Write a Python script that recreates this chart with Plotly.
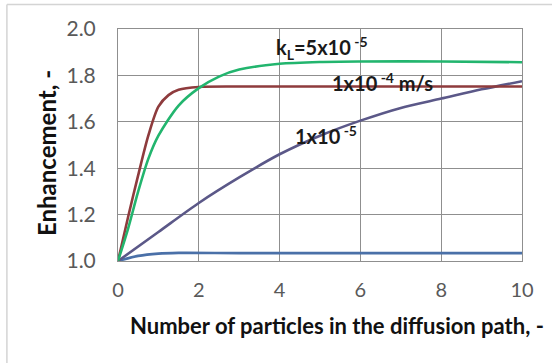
import plotly.graph_objects as go

# Data
x_red = [0, 0.25, 0.5, 0.75, 1.0, 1.25, 1.5, 2, 3, 4, 6, 8, 10]
y_red = [1.0, 1.19, 1.37, 1.54, 1.665, 1.715, 1.738, 1.75, 1.752, 1.752, 1.752, 1.752, 1.752]

x_green = [0, 0.25, 0.5, 0.75, 1.0, 1.5, 2, 2.5, 3, 4, 5, 6, 8, 10]
y_green = [1.0, 1.14, 1.30, 1.44, 1.54, 1.67, 1.745, 1.795, 1.825, 1.85, 1.858, 1.86, 1.86, 1.857]

x_purple = [0, 1, 2, 3, 4, 5, 6, 7, 8, 9, 10]
y_purple = [1.0, 1.125, 1.25, 1.36, 1.46, 1.54, 1.605, 1.66, 1.70, 1.74, 1.775]

x_blue = [0, 0.5, 1, 1.5, 3, 6, 10]
y_blue = [1.0, 1.022, 1.032, 1.035, 1.034, 1.034, 1.034]

x_ticks = [0, 2, 4, 6, 8, 10]
y_ticks = [1.0, 1.2, 1.4, 1.6, 1.8, 2.0]

FONT = "Lato"

fig = go.Figure()
for xs, ys, col in [(x_blue, y_blue, "#4a70a8"), (x_purple, y_purple, "#5b5888"),
                    (x_red, y_red, "#8e3b3d"), (x_green, y_green, "#22b56e")]:
    fig.add_trace(go.Scatter(x=xs, y=ys, mode="lines",
                             line=dict(color=col, width=2.6, shape="spline", smoothing=0.8),
                             showlegend=False, hoverinfo="skip"))

ann_font = dict(family=FONT, size=20, color="#1a1a1a")
labels = [
    (5.05, 1.92, "<b>k<sub>L</sub>=5x10<sup> -5</sup></b>"),
    (6.55, 1.77, "<b>1x10<sup> -4</sup> m/s</b>"),
    (5.15, 1.545, "<b>1x10<sup> -5</sup></b>"),
    (5.2, 0.995, "<b>5x10<sup> -4</sup></b>"),
]
for ax, ay, t in labels:
    fig.add_annotation(x=ax, y=ay, text=t, showarrow=False, font=ann_font, xref="x", yref="y",
                       xanchor="center", yanchor="middle")

# axis titles placed as annotations (paper coords)
fig.add_annotation(x=(337 - 118) / 404, y=(261 - 325) / 232, xref="paper", yref="paper",
                   xanchor="center", yanchor="middle",
                   text="<b>Number of particles in the diffusion path, -</b>", showarrow=False,
                   font=dict(family=FONT, size=22, color="#111111"))
fig.add_annotation(x=(46 - 118) / 404, y=(261 - 153) / 232, xref="paper", yref="paper",
                   xanchor="center", yanchor="middle",
                   text="<b>Enhancement, -</b>", showarrow=False, textangle=-90,
                   font=dict(family=FONT, size=24, color="#111111"))

# outer chart border (left and top visible)
fig.add_shape(type="line", xref="paper", yref="paper", x0=-0.275, x1=1.1, y0=1.106, y1=1.106,
              line=dict(color="#d4d4d4", width=1.5))
fig.add_shape(type="line", xref="paper", yref="paper", x0=-0.275, x1=-0.275, y0=-0.5, y1=1.106,
              line=dict(color="#d4d4d4", width=1.5))

fig.update_layout(
    width=552, height=363,
    margin=dict(l=118, r=30, t=29, b=102),
    paper_bgcolor="white", plot_bgcolor="white",
    font=dict(family=FONT, color="#595959"),
    xaxis=dict(range=[0, 10], tickvals=x_ticks, ticktext=[str(v) for v in x_ticks],
               showgrid=True, gridcolor="#8f8f8f", gridwidth=1, zeroline=False,
               showline=True, linecolor="#8f8f8f", mirror=True,
               tickfont=dict(family=FONT, size=20, color="#595959"), ticks="", ticklabelstandoff=11),
    yaxis=dict(range=[1.0, 2.0], tickvals=y_ticks, ticktext=[f"{v:.1f}" for v in y_ticks],
               showgrid=True, gridcolor="#8f8f8f", gridwidth=1, zeroline=False,
               showline=True, linecolor="#8f8f8f", mirror=True,
               tickfont=dict(family=FONT, size=21, color="#595959"), ticks="", ticklabelstandoff=17),
)

fig.write_html("out.html")
